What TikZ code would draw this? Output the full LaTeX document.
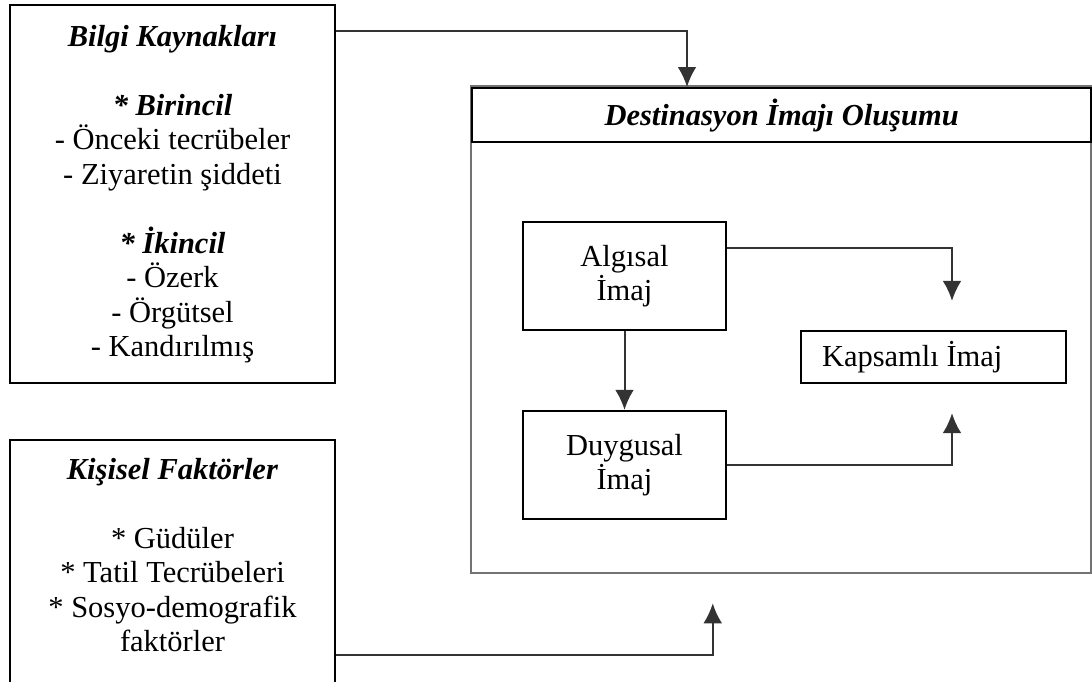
\documentclass[tikz,border=0pt]{standalone}
\usepackage{fontspec}
\setmainfont{Liberation Serif}
\usetikzlibrary{arrows.meta,calc}

\begin{document}
\begin{tikzpicture}[x=0.4pt,y=-0.4pt,
  font=\fontsize{12.2}{13.8}\selectfont,
  kutu/.style={draw, line width=0.9pt, inner sep=0pt, align=center},
  ok/.style={draw=black!80, line width=0.8pt, -{Latex[length=8pt,width=7.5pt]}}]

\useasboundingbox (0,0) rectangle (1092,681);
\clip (0,0) rectangle (1092,681);

\node[kutu, minimum width=130pt, minimum height=151.2pt] (bilgi) at (172.5,194)
  {\textbf{\textit{Bilgi Kaynakları}}\\[13.8pt]
   \textbf{\textit{* Birincil}}\\ - Önceki tecrübeler\\ - Ziyaretin şiddeti\\[13.8pt]
   \textbf{\textit{* İkincil}}\\ - Özerk\\ - Örgütsel\\ - Kandırılmış};

\node[kutu, minimum width=130pt, minimum height=200pt, anchor=north] (kisisel) at (172.5,439) {};
\node[align=center, inner sep=0pt] (kisiselYazi) at (172.5,555)
  {\textbf{\textit{Kişisel Faktörler}}\\[13.8pt]
   * Güdüler\\ * Tatil Tecrübeleri\\ * Sosyo-demografik\\ faktörler};

\node[kutu, draw=black!55, line width=1pt, minimum width=248pt, minimum height=194.8pt] (dis) at (781,329.5) {};
\node[kutu, minimum width=247.6pt, minimum height=21.6pt, anchor=north west] (baslik) at (471,87)
  {\textbf{\textit{Destinasyon İmajı Oluşumu}}};

\node[kutu, minimum width=81.2pt, minimum height=43.2pt] (algisal) at (624.5,276) {Algısal\\İmaj};
\node[kutu, minimum width=81.2pt, minimum height=43.2pt] (duygusal) at (624.5,465) {Duygusal\\İmaj};
\node[kutu, minimum height=20.8pt, inner xsep=8.4pt, text width=89.2pt, align=flush left] (kapsamli) at (933.5,357) {Kapsamlı İmaj};

\draw[ok] ($(bilgi.north east)+(0,27)$) -| ($(baslik.north west)+(216,0)$);
\draw[ok] ($(kisisel.north east)+(0,216)$) -| ($(dis.south west)+(243,29)$);

\draw[ok] (algisal) -- (duygusal);
\draw[ok] ($(algisal.north east)+(0,27)$) -| ($(kapsamli.north)+(18.5,-29)$);
\draw[ok] ($(duygusal.north east)+(0,55)$) -| ($(kapsamli.south)+(18.5,29)$);

\end{tikzpicture}
\end{document}
